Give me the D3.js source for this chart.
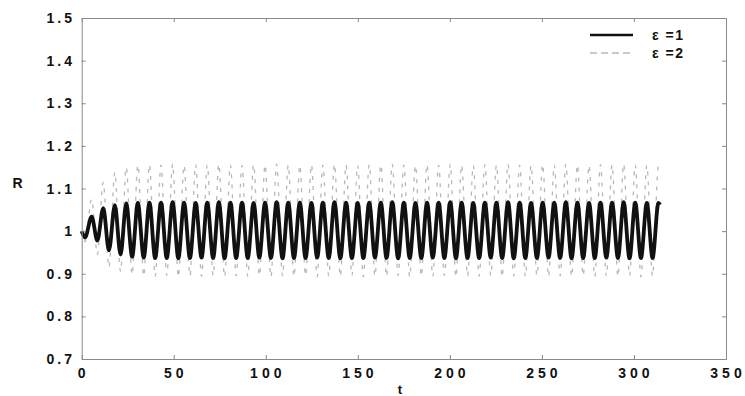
<!DOCTYPE html>
<html><head><meta charset="utf-8">
<script src="https://cdn.jsdelivr.net/npm/d3@7"></script>
<style>
html,body{margin:0;padding:0;background:#fff;}
svg{display:block;}
text{font-family:"Liberation Sans",Arial,sans-serif;font-weight:bold;fill:#111;}
</style></head><body>
<svg id="c" width="745" height="396"></svg>
<script>
// ---- data ----
const xTicks = [0, 50, 100, 150, 200, 250, 300, 350];
const yTicks = [0.7, 0.8, 0.9, 1.0, 1.1, 1.2, 1.3, 1.4, 1.5];
const yTickLabels = ["0.7", "0.8", "0.9", "1", "1.1", "1.2", "1.3", "1.4", "1.5"];
const seriesNames = ["\u03b5 =1", "\u03b5 =2"];

// start / end points
const tStart = 0, tEnd = 314.2;
const eps1Start = 1.0, eps1End = 1.062;
const eps2Start = 1.0, eps2End = 1.15;

// times of maxima and minima
const peakT = [5.4,11.7,18.0,24.2,30.5,36.8,43.1,49.4,55.6,61.9,68.2,74.5,80.8,87.1,93.4,99.6,105.9,112.2,118.5,124.8,
  131.0,137.3,143.6,149.9,156.2,162.5,168.7,175.0,181.3,187.6,193.9,200.2,206.4,212.7,219.0,225.3,231.6,237.9,244.1,250.4,
  256.7,263.0,269.3,275.6,281.8,288.1,294.4,300.7,307.0,313.3];
const troughT = [1.8,8.5,14.8,21.1,27.4,33.7,39.9,46.2,52.5,58.8,65.1,71.4,77.6,83.9,90.2,96.5,102.8,109.1,115.3,121.6,
  127.9,134.2,140.5,146.8,153.0,159.3,165.6,171.9,178.2,184.5,190.7,197.0,203.3,209.6,215.9,222.2,228.4,234.7,241.0,247.3,
  253.6,259.9,266.1,272.4,278.7,285.0,291.3,297.6,303.8,310.1];

// epsilon = 1 (solid black)
const eps1Peaks = [1.034,1.054,1.061,1.065,1.066,1.067,1.067,1.068,1.067,1.066,1.067,1.068,1.067,1.067,1.066,1.067,1.068,1.067,1.067,1.066,
  1.067,1.068,1.067,1.066,1.067,1.067,1.068,1.067,1.066,1.067,1.067,1.068,1.067,1.066,1.067,1.067,1.068,1.067,1.066,1.067,
  1.067,1.068,1.067,1.066,1.067,1.067,1.068,1.067,1.066,1.066];
const eps1Troughs = [0.985,0.978,0.955,0.945,0.940,0.938,0.937,0.937,0.936,0.937,0.938,0.937,0.936,0.937,0.937,0.938,0.937,0.936,0.937,0.937,
  0.938,0.937,0.936,0.937,0.937,0.938,0.937,0.936,0.937,0.937,0.938,0.937,0.936,0.937,0.937,0.938,0.937,0.936,0.937,0.937,
  0.938,0.937,0.936,0.937,0.937,0.938,0.937,0.936,0.937,0.937];

// epsilon = 2 (grey dashed)
const eps2Peaks = [1.075,1.115,1.138,1.150,1.155,1.156,1.155,1.157,1.154,1.156,1.155,1.157,1.155,1.154,1.156,1.155,1.157,1.155,1.154,1.156,
  1.155,1.157,1.155,1.154,1.156,1.155,1.157,1.155,1.154,1.156,1.155,1.157,1.155,1.154,1.156,1.155,1.157,1.155,1.154,1.156,
  1.155,1.157,1.155,1.154,1.156,1.155,1.157,1.155,1.154,1.155];
const eps2Troughs = [0.975,0.945,0.915,0.905,0.898,0.895,0.894,0.896,0.893,0.895,0.894,0.896,0.893,0.895,0.894,0.896,0.893,0.895,0.894,0.896,
  0.893,0.895,0.894,0.896,0.893,0.895,0.894,0.896,0.893,0.895,0.894,0.896,0.893,0.895,0.894,0.896,0.893,0.895,0.894,0.896,
  0.893,0.895,0.894,0.896,0.893,0.895,0.894,0.896,0.893,0.895];

// ---- build point lists ----
function buildSeries(startV, peaks, troughs, endV) {
  const pts = [[tStart, startV]];
  peakT.forEach((t, i) => pts.push([t, peaks[i]]));
  troughT.forEach((t, i) => pts.push([t, troughs[i]]));
  pts.push([tEnd, endV]);
  return pts.sort((a, b) => a[0] - b[0]);
}
const s1 = buildSeries(eps1Start, eps1Peaks, eps1Troughs, eps1End);
const s2 = buildSeries(eps2Start, eps2Peaks, eps2Troughs, eps2End);

// ---- chart ----
const svg = d3.select("#c");
const L = 81.7, R = 726, T = 18, B = 359;
const x = d3.scaleLinear().domain([0, 350]).range([L, R]);
const y = d3.scaleLinear().domain([0.7, 1.5]).range([B, T]);

const line = d3.line().x(d => x(d[0])).y(d => y(d[1])).curve(d3.curveMonotoneX);

svg.append("path").datum(s2).attr("d", line)
  .attr("fill", "none").attr("stroke", "#b8b8b8").attr("stroke-width", 1.3)
  .attr("stroke-dasharray", "4,6");
svg.append("path").datum(s1).attr("d", line)
  .attr("fill", "none").attr("stroke", "#111").attr("stroke-width", 3.8)
  .attr("stroke-linejoin", "round");

// axes (box with inward ticks)
const axColor = "#8a8a8a";
function styleAxis(g) {
  g.selectAll("path.domain").attr("stroke", axColor).attr("stroke-width", 1);
  g.selectAll(".tick line").attr("stroke", axColor);
}
const gB = svg.append("g").attr("transform", `translate(0,${B})`)
  .call(d3.axisBottom(x).tickValues(xTicks).tickSize(-4).tickSizeOuter(0).tickPadding(0).tickFormat(""));
styleAxis(gB);
const gT = svg.append("g").attr("transform", `translate(0,${T})`)
  .call(d3.axisTop(x).tickValues(xTicks).tickSize(-4).tickSizeOuter(0).tickFormat(""));
styleAxis(gT);
const gL = svg.append("g").attr("transform", `translate(${L},0)`)
  .call(d3.axisLeft(y).tickValues(yTicks).tickSize(-4).tickSizeOuter(0).tickFormat(""));
styleAxis(gL);
const gR = svg.append("g").attr("transform", `translate(${R},0)`)
  .call(d3.axisRight(y).tickValues(yTicks).tickSize(-4).tickSizeOuter(0).tickFormat(""));
styleAxis(gR);

// tick labels
svg.append("g").selectAll("text").data(xTicks).join("text")
  .attr("x", d => x(d) + 2).attr("y", 378)
  .attr("text-anchor", "middle").attr("font-size", 14).attr("letter-spacing", "4px")
  .text(d => d);
svg.append("g").selectAll("text").data(yTicks).join("text")
  .attr("x", 75).attr("y", d => y(d) + 5)
  .attr("text-anchor", "end").attr("font-size", 14).attr("letter-spacing", "3px")
  .text((d, i) => yTickLabels[i]);

// axis titles
svg.append("text").attr("x", 400).attr("y", 394).attr("text-anchor", "middle")
  .attr("font-size", 13).text("t");
svg.append("text").attr("x", 17.5).attr("y", 188).attr("text-anchor", "middle")
  .attr("font-size", 14).text("R");

// legend
const lg = svg.append("g");
lg.append("line").attr("x1", 590).attr("x2", 633).attr("y1", 35).attr("y2", 35)
  .attr("stroke", "#111").attr("stroke-width", 2.5);
lg.append("line").attr("x1", 590).attr("x2", 633).attr("y1", 53).attr("y2", 53)
  .attr("stroke", "#b8b8b8").attr("stroke-width", 1.3).attr("stroke-dasharray", "7,4");
lg.selectAll("text").data(seriesNames).join("text")
  .attr("x", 652).attr("y", (d, i) => 40 + i * 18)
  .attr("font-size", 14).attr("letter-spacing", "1.5px").text(d => d);
</script>
</body></html>
